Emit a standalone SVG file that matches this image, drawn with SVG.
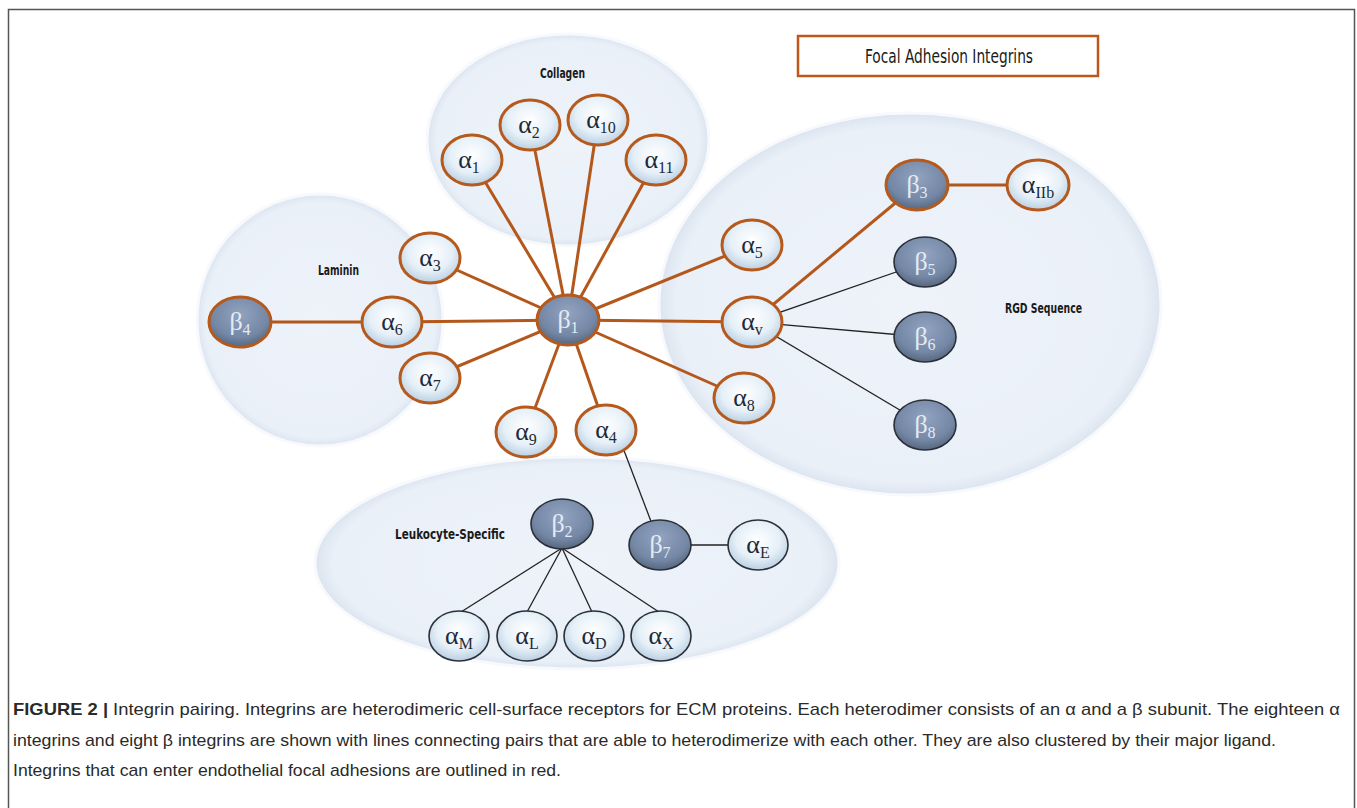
<svg xmlns="http://www.w3.org/2000/svg" width="1357" height="808" viewBox="0 0 1357 808">
<defs>
<radialGradient id="ga" cx="50%" cy="40%" r="60%">
<stop offset="0" stop-color="#ffffff"/>
<stop offset="0.6" stop-color="#e6f0f8"/>
<stop offset="1" stop-color="#b9cfe2"/>
</radialGradient>
<radialGradient id="gb" cx="50%" cy="35%" r="65%">
<stop offset="0" stop-color="#91a3bf"/>
<stop offset="0.7" stop-color="#7487a5"/>
<stop offset="1" stop-color="#56677f"/>
</radialGradient>
<radialGradient id="gc" cx="50%" cy="50%" r="50%">
<stop offset="0" stop-color="#eef3fa"/>
<stop offset="0.93" stop-color="#eaf0f8"/>
<stop offset="1" stop-color="#dbe4ef"/>
</radialGradient>
</defs>
<style>
.frame{fill:none;stroke:#555;stroke-width:1.5}
.cl{fill:url(#gc);stroke:#f7f9fc;stroke-width:3}
.clt{font-family:"DejaVu Sans Condensed","Liberation Sans",sans-serif;font-size:14px;fill:#1a1a1a;font-weight:bold}
.a{fill:url(#ga)}
.b{fill:url(#gb)}
.red{stroke:#b55a1c;stroke-width:3}
.blk{stroke:#2a2f38;stroke-width:1.6}
.at{font-family:"Liberation Serif","DejaVu Serif",serif;font-size:26px;fill:#1e2a38;text-anchor:middle}
.bt{font-family:"Liberation Serif","DejaVu Serif",serif;font-size:26px;fill:#e4ebf4;text-anchor:middle}
.sub{font-size:16px}
.lr{stroke:#b4571b;stroke-width:3;fill:none}
.lb{stroke:#222;stroke-width:1.3;fill:none}
.cap{font-family:"Liberation Sans",Arial,sans-serif;font-size:17px;fill:#2a2a2a}
</style>
<path class="frame" d="M8.5,808 V9.5 H1354.5 V808"/>

<g id="cluster-collagen">
<ellipse class="cl" cx="568" cy="140" rx="141" ry="106"/>
<text class="clt" x="540" y="78" textLength="45" lengthAdjust="spacingAndGlyphs">Collagen</text>
</g>
<g id="cluster-laminin">
<ellipse class="cl" cx="320" cy="320" rx="123" ry="126"/>
<text class="clt" x="318" y="275" textLength="41" lengthAdjust="spacingAndGlyphs">Laminin</text>
</g>
<g id="cluster-rgd">
<ellipse class="cl" cx="910" cy="304" rx="251" ry="191"/>
<text class="clt" x="1005" y="313" textLength="77" lengthAdjust="spacingAndGlyphs">RGD Sequence</text>
</g>
<g id="cluster-leukocyte">
<ellipse class="cl" cx="577" cy="563" rx="262" ry="106"/>
<text class="clt" x="395" y="539" textLength="110" lengthAdjust="spacingAndGlyphs">Leukocyte-Specific</text>
</g>

<g id="focal-legend">
<rect x="798" y="36" width="300" height="40" fill="#fff" stroke="#c0561a" stroke-width="2.5"/>
<text x="865" y="63" font-family="DejaVu Sans Condensed, Liberation Sans, sans-serif" font-size="20" fill="#1a1a1a" textLength="168" lengthAdjust="spacingAndGlyphs">Focal Adhesion Integrins</text>
</g>

<g id="connectors">
<line class="lr" x1="568" y1="320" x2="472" y2="160"/>
<line class="lr" x1="568" y1="320" x2="530" y2="125"/>
<line class="lr" x1="568" y1="320" x2="598" y2="120"/>
<line class="lr" x1="568" y1="320" x2="656" y2="160"/>
<line class="lr" x1="568" y1="320" x2="430" y2="258"/>
<line class="lr" x1="568" y1="320" x2="392" y2="322"/>
<line class="lr" x1="568" y1="320" x2="430" y2="378"/>
<line class="lr" x1="568" y1="320" x2="526" y2="432"/>
<line class="lr" x1="568" y1="320" x2="606" y2="430"/>
<line class="lr" x1="568" y1="320" x2="752" y2="245"/>
<line class="lr" x1="568" y1="320" x2="752" y2="322"/>
<line class="lr" x1="568" y1="320" x2="744" y2="398"/>
<line class="lr" x1="240" y1="322" x2="392" y2="322"/>
<line class="lr" x1="752" y1="322" x2="917" y2="185"/>
<line class="lr" x1="917" y1="185" x2="1038" y2="185"/>
<line class="lb" x1="752" y1="322" x2="925" y2="262"/>
<line class="lb" x1="752" y1="322" x2="925" y2="337"/>
<line class="lb" x1="752" y1="322" x2="925" y2="425"/>
<line class="lb" x1="620" y1="440" x2="660" y2="545"/>
<line class="lb" x1="660" y1="545" x2="758" y2="545"/>
<line class="lb" x1="562" y1="548" x2="461" y2="612"/>
<line class="lb" x1="562" y1="548" x2="527" y2="612"/>
<line class="lb" x1="562" y1="548" x2="592" y2="612"/>
<line class="lb" x1="562" y1="548" x2="659" y2="612"/>
</g>

<g id="a1"><ellipse class="a red" cx="472" cy="160" rx="30" ry="25"/><text class="at" x="469" y="168">α<tspan class="sub" dy="5">1</tspan></text></g>
<g id="a2"><ellipse class="a red" cx="530" cy="125" rx="30" ry="25"/><text class="at" x="529" y="133">α<tspan class="sub" dy="5">2</tspan></text></g>
<g id="a10"><ellipse class="a red" cx="598" cy="120" rx="30" ry="25"/><text class="at" x="601" y="128">α<tspan class="sub" dy="5">10</tspan></text></g>
<g id="a11"><ellipse class="a red" cx="656" cy="160" rx="30" ry="25"/><text class="at" x="659" y="168">α<tspan class="sub" dy="5">11</tspan></text></g>
<g id="a3"><ellipse class="a red" cx="430" cy="258" rx="30" ry="25"/><text class="at" x="430" y="266">α<tspan class="sub" dy="5">3</tspan></text></g>
<g id="a6"><ellipse class="a red" cx="392" cy="322" rx="30" ry="25"/><text class="at" x="392" y="330">α<tspan class="sub" dy="5">6</tspan></text></g>
<g id="b4"><ellipse class="b red" cx="240" cy="322" rx="31" ry="25"/><text class="bt" x="240" y="330">β<tspan class="sub" dy="5">4</tspan></text></g>
<g id="a7"><ellipse class="a red" cx="430" cy="378" rx="30" ry="25"/><text class="at" x="430" y="386">α<tspan class="sub" dy="5">7</tspan></text></g>
<g id="b1"><ellipse class="b red" cx="568" cy="320" rx="31" ry="25"/><text class="bt" x="568" y="328">β<tspan class="sub" dy="5">1</tspan></text></g>
<g id="a9"><ellipse class="a red" cx="526" cy="432" rx="30" ry="25"/><text class="at" x="526" y="440">α<tspan class="sub" dy="5">9</tspan></text></g>
<g id="a4"><ellipse class="a red" cx="606" cy="430" rx="30" ry="25"/><text class="at" x="606" y="438">α<tspan class="sub" dy="5">4</tspan></text></g>
<g id="a5"><ellipse class="a red" cx="752" cy="245" rx="30" ry="25"/><text class="at" x="752" y="253">α<tspan class="sub" dy="5">5</tspan></text></g>
<g id="av"><ellipse class="a red" cx="752" cy="322" rx="30" ry="25"/><text class="at" x="752" y="330">α<tspan class="sub" dy="5">v</tspan></text></g>
<g id="a8"><ellipse class="a red" cx="744" cy="398" rx="30" ry="25"/><text class="at" x="744" y="406">α<tspan class="sub" dy="5">8</tspan></text></g>
<g id="b3"><ellipse class="b red" cx="917" cy="185" rx="31" ry="25"/><text class="bt" x="917" y="193">β<tspan class="sub" dy="5">3</tspan></text></g>
<g id="aIIb"><ellipse class="a red" cx="1038" cy="185" rx="31" ry="25"/><text class="at" x="1038" y="193">α<tspan class="sub" dy="5">IIb</tspan></text></g>
<g id="b5"><ellipse class="b blk" cx="925" cy="262" rx="31" ry="25"/><text class="bt" x="925" y="270">β<tspan class="sub" dy="5">5</tspan></text></g>
<g id="b6"><ellipse class="b blk" cx="925" cy="337" rx="31" ry="25"/><text class="bt" x="925" y="345">β<tspan class="sub" dy="5">6</tspan></text></g>
<g id="b8"><ellipse class="b blk" cx="925" cy="425" rx="31" ry="25"/><text class="bt" x="925" y="433">β<tspan class="sub" dy="5">8</tspan></text></g>
<g id="b2"><ellipse class="b blk" cx="562" cy="524" rx="31" ry="25"/><text class="bt" x="562" y="532">β<tspan class="sub" dy="5">2</tspan></text></g>
<g id="b7"><ellipse class="b blk" cx="660" cy="545" rx="31" ry="25"/><text class="bt" x="660" y="553">β<tspan class="sub" dy="5">7</tspan></text></g>
<g id="aE"><ellipse class="a blk" cx="758" cy="545" rx="30" ry="25"/><text class="at" x="758" y="553">α<tspan class="sub" dy="5">E</tspan></text></g>
<g id="aM"><ellipse class="a blk" cx="459" cy="636" rx="30" ry="25"/><text class="at" x="459" y="644">α<tspan class="sub" dy="5">M</tspan></text></g>
<g id="aL"><ellipse class="a blk" cx="527" cy="636" rx="30" ry="25"/><text class="at" x="527" y="644">α<tspan class="sub" dy="5">L</tspan></text></g>
<g id="aD"><ellipse class="a blk" cx="594" cy="636" rx="30" ry="25"/><text class="at" x="594" y="644">α<tspan class="sub" dy="5">D</tspan></text></g>
<g id="aX"><ellipse class="a blk" cx="661" cy="636" rx="30" ry="25"/><text class="at" x="661" y="644">α<tspan class="sub" dy="5">X</tspan></text></g>

<g id="caption">
<text class="cap" x="13" y="715" textLength="1327" lengthAdjust="spacingAndGlyphs"><tspan font-weight="bold">FIGURE 2 |</tspan> Integrin pairing. Integrins are heterodimeric cell-surface receptors for ECM proteins. Each heterodimer consists of an α and a β subunit. The eighteen α</text>
<text class="cap" x="13" y="746" textLength="1263" lengthAdjust="spacingAndGlyphs">integrins and eight β integrins are shown with lines connecting pairs that are able to heterodimerize with each other. They are also clustered by their major ligand.</text>
<text class="cap" x="13" y="776" textLength="548" lengthAdjust="spacingAndGlyphs">Integrins that can enter endothelial focal adhesions are outlined in red.</text>
</g>
</svg>
